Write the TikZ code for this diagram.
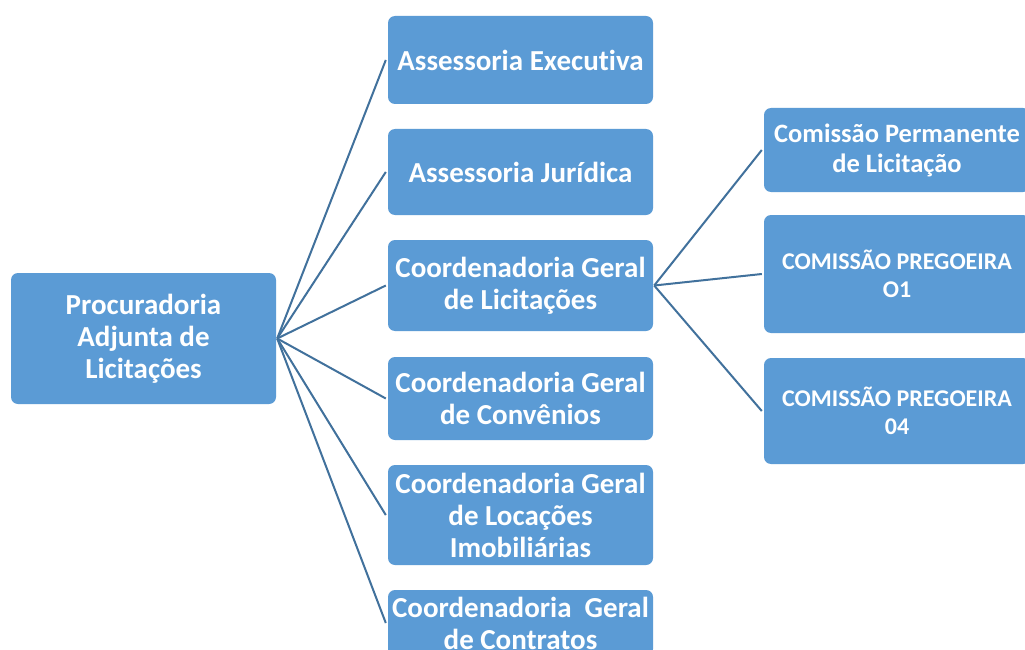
\documentclass[tikz,border=0pt]{standalone}
\usepackage{fontspec}
\setmainfont{Carlito}[RawFeature={-liga;-clig;-dlig;-calt}]
\definecolor{boxfill}{HTML}{5B9BD5}
\definecolor{linecol}{HTML}{41719C}
\begin{document}
\begin{tikzpicture}[x=1pt,y=-1pt,
  box/.style={fill=boxfill, draw=none, rounded corners=7pt, inner sep=0pt, text=white, align=center, font=\bfseries\fontsize{29}{32}\selectfont},
  conn/.style={draw=linecol, line width=2pt}]
\useasboundingbox (0,0) rectangle (1025,650);
\clip (0,0) rectangle (1025,650);
\fill[white] (0,0) rectangle (1025,650);
\node[box, minimum width=265pt, minimum height=131pt] (root) at (143.5,338.5) {Procuradoria\\Adjunta de\\Licitações};
\node[box, minimum width=265pt, minimum height=88pt] (m1) at (520.5,60) {Assessoria Executiva};
\node[box, minimum width=265pt, minimum height=86pt] (m2) at (520.5,172) {Assessoria Jurídica};
\node[box, minimum width=265pt, minimum height=91pt] (m3) at (520.5,285.5) {Coordenadoria Geral\\de Licitações};
\node[box, minimum width=265pt, minimum height=83pt] (m4) at (520.5,398.5) {Coordenadoria Geral\\de Convênios};
\node[box, minimum width=265pt, minimum height=100pt] (m5) at (520.5,515) {Coordenadoria Geral\\de Locações\\Imobiliárias};
\node[box, minimum width=265pt, minimum height=66pt] (m6) at (520.5,623) {Coordenadoria\ \ Geral\\de Contratos};
\node[box, minimum width=266pt, minimum height=84pt, font=\bfseries\fontsize{26.5}{30}\selectfont] (r1) at (897,150) {Comissão Permanente\\de Licitação};
\node[box, minimum width=266pt, minimum height=118pt, font=\bfseries\fontsize{24}{28}\selectfont] (r2) at (897,274) {COMISSÃO PREGOEIRA\\O1};
\node[box, minimum width=266pt, minimum height=106pt, font=\bfseries\fontsize{24}{28}\selectfont] (r3) at (897,411) {COMISSÃO PREGOEIRA\\04};
\foreach \m in {m1,m2,m3,m4,m5,m6} \draw[conn] ([xshift=1pt]root.east) -- ([xshift=-2pt]\m.west);
\foreach \r in {r1,r2,r3} \draw[conn] ([xshift=1pt]m3.east) -- ([xshift=-2pt]\r.west);
\end{tikzpicture}
\end{document}
